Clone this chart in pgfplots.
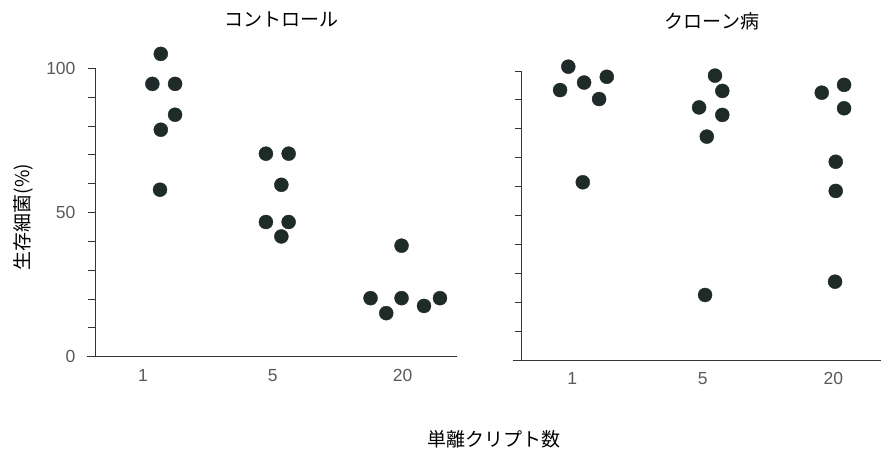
\documentclass[border=0pt]{standalone}
\usepackage{fontspec}
\setmainfont{Liberation Sans}
\newfontfamily\cjk{Noto Sans CJK JP}
\usepackage{pgfplots}
\pgfplotsset{compat=1.18}
\definecolor{dot}{HTML}{1F2B28}
\definecolor{axc}{HTML}{2E3936}
\definecolor{tickc}{HTML}{5A5A5A}

\pgfplotsset{panel/.style={
  scale only axis, clip=false,
  ymin=0, ymax=100,
  axis x line=bottom, axis y line=left,
  axis line style={axc, line width=0.9pt, -},
  ytick={0,10,...,100}, tick align=outside, major tick length=7pt,
  tick style={axc, line width=0.8pt},
  xtick={1,2,3}, xticklabels={1,5,20}, x tick style={draw=none},
  ticklabel style={font=\fontsize{17.5}{20}\selectfont, text=tickc},
  yticklabel style={xshift=-9pt},
  xticklabel style={yshift=-2pt},
  /pgf/number format/assume math mode=true,
  title style={at={(axis cs:2.07,115)}, anchor=center, font=\cjk\fontsize{19}{22}\selectfont},
}}
\pgfplotsset{dots/.style={only marks, mark=*, mark size=7pt, mark options={fill=dot, draw=dot}}}

\pgfplotstableread{
x y
1.137 105.0
1.072 94.6
1.247 94.6
1.247 83.9
1.137 78.7
1.131 57.9
1.947 70.4
2.122 70.4
2.066 59.6
1.947 46.7
2.122 46.7
2.066 41.7
2.992 38.5
2.753 20.3
2.874 15.1
2.992 20.3
3.165 17.6
3.288 20.3
}\controltab

\pgfplotstableread{
x y
0.969 101.5
0.906 93.4
1.090 96.0
1.264 98.0
1.205 90.3
1.080 61.5
2.093 98.4
2.149 93.1
1.971 87.4
2.149 84.8
2.030 77.3
2.017 22.5
2.911 92.5
3.082 95.2
3.082 87.1
3.018 68.6
3.018 58.5
3.013 27.1
}\crohntab

\begin{document}
\begin{tikzpicture}
\useasboundingbox (0,0) rectangle (881pt,448pt);
\clip (0,0) rectangle (881pt,448pt);

\begin{axis}[panel,
  at={(95pt,91.3pt)}, anchor=south west,
  width=362.1pt, height=288.4pt,
  xmin=0.63, xmax=3.42,
  yticklabels={0,,,,,50,,,,,100},
  title={コントロール},
  ylabel={生存細菌(\%)},
  ylabel style={at={(axis cs:0.075,48.4)}, anchor=center, font=\cjk\fontsize{19}{22}\selectfont},
]
\draw[axc, line width=0.9pt] (axis cs:0.57,0) -- (axis cs:0.63,0);
\addplot[dots] table[x=x,y=y] {\controltab};
\end{axis}

\begin{axis}[panel,
  at={(521.7pt,88pt)}, anchor=south west,
  width=370.4pt, height=289pt,
  xmin=0.612, xmax=3.45,
  yticklabels={},
  title={クローン病},
]
\draw[axc, line width=0.9pt] (axis cs:0.543,0) -- (axis cs:0.612,0);
\addplot[dots] table[x=x,y=y] {\crohntab};
\end{axis}

\node[font=\cjk\fontsize{19}{22}\selectfont] at (494pt,9pt) {単離クリプト数};
\end{tikzpicture}
\end{document}
